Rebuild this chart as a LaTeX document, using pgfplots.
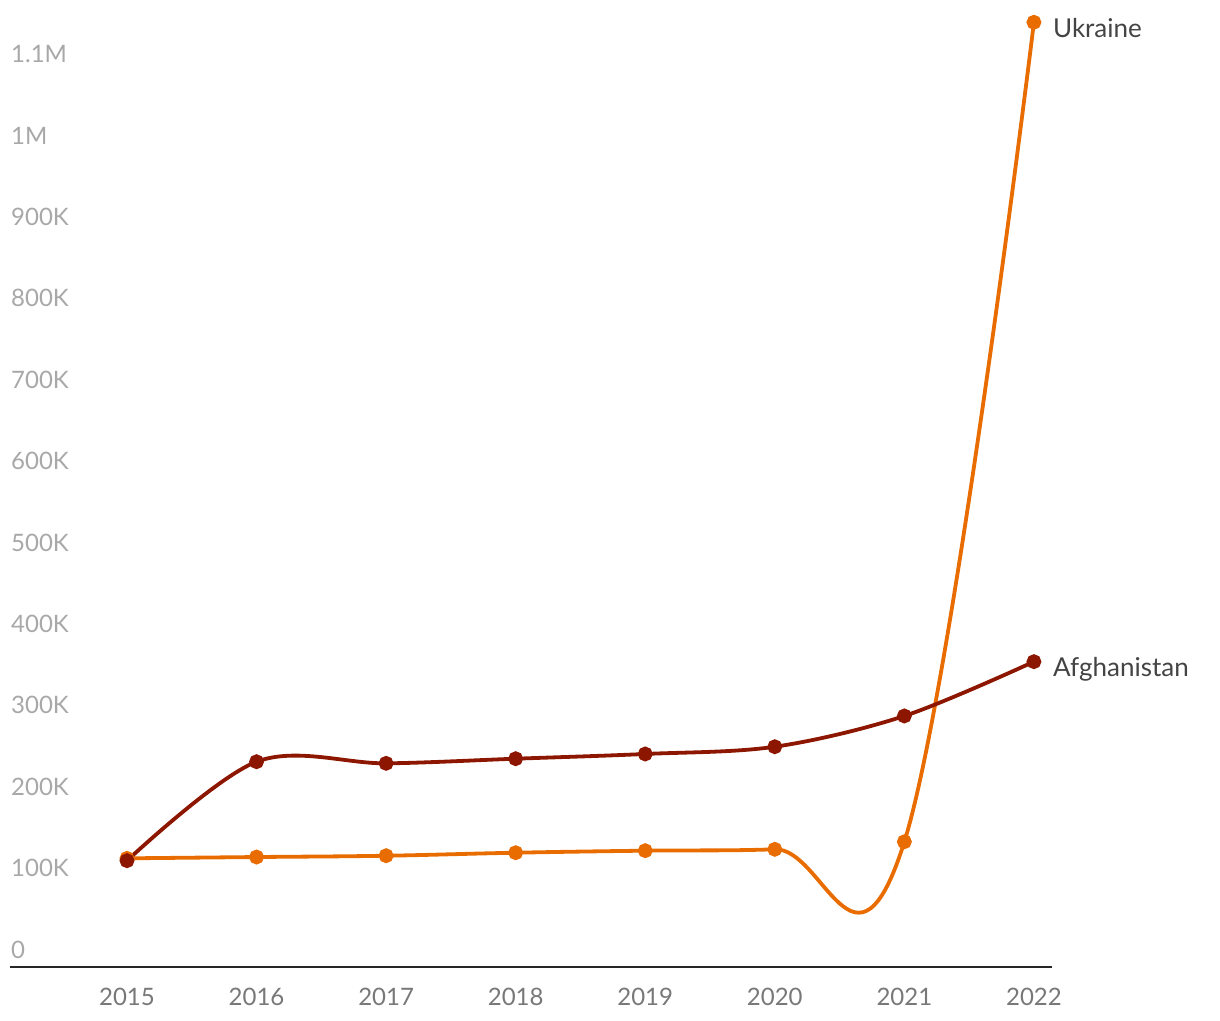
\documentclass[border=0pt]{standalone}
\usepackage{fontspec}
\setmainfont{Lato}
\usepackage{pgfplots}
\pgfplotsset{compat=1.18}
\definecolor{afg}{RGB}{140,22,0}
\definecolor{ukr}{RGB}{232,108,0}
\definecolor{ylab}{RGB}{168,168,168}
\definecolor{xlab}{RGB}{120,120,120}
\definecolor{endlab}{RGB}{68,68,68}
\begin{document}
\begin{tikzpicture}
\useasboundingbox (0,0) rectangle (1220pt,1020pt);
\begin{axis}[
  at={(10pt,53pt)}, anchor=south west,
  scale only axis, width=1042pt, height=960.5pt,
  xmin=2014.097, xmax=2022.139, ymin=0, ymax=1180000,
  axis x line=bottom, axis y line=left,
  axis line style={-},
  y axis line style={draw=none},
  x axis line style={draw=black!85, line width=1.5pt},
  major tick length=0pt,
  xtick={2015,2016,2017,2018,2019,2020,2021,2022},
  xticklabels={2015,2016,2017,2018,2019,2020,2021,2022},
  ytick={0,100000,200000,300000,400000,500000,600000,700000,800000,900000,1000000,1100000},
  yticklabels={0,100K,200K,300K,400K,500K,600K,700K,800K,900K,1M,1.1M},
  scaled y ticks=false,
  yticklabel style={anchor=base west, inner sep=0pt, xshift=1pt, yshift=9pt, text=ylab, font=\fontsize{24}{28}\selectfont},
  xticklabel style={anchor=north, inner sep=0pt, yshift=-21pt, text=xlab, font=\fontsize{24}{28}\selectfont},
  clip=false,
]
\addplot[ukr, line width=3.8pt, smooth, tension=0.68, mark=*, mark size=5.5pt,
  mark options={solid, fill=ukr, draw=none}] coordinates {
  (2015,133500) (2016,135100) (2017,136700) (2018,140400)
  (2019,142900) (2020,144600) (2021,153900) (2022,1160600)};
\addplot[afg, line width=3.8pt, smooth, tension=0.55, mark=*, mark size=5.5pt,
  mark options={solid, fill=afg, draw=none}] coordinates {
  (2015,130600) (2016,252200) (2017,250200) (2018,255900)
  (2019,261700) (2020,270600) (2021,308400) (2022,375100)};
\node[anchor=base west, inner sep=0pt, xshift=19pt, yshift=-15pt, text=endlab,
  font=\fontsize{26}{30}\selectfont] at (axis cs:2022,1160600) {Ukraine};
\node[anchor=base west, inner sep=0pt, xshift=19pt, yshift=-15pt, text=endlab,
  font=\fontsize{26}{30}\selectfont] at (axis cs:2022,375100) {Afghanistan};
\end{axis}
\end{tikzpicture}
\end{document}
